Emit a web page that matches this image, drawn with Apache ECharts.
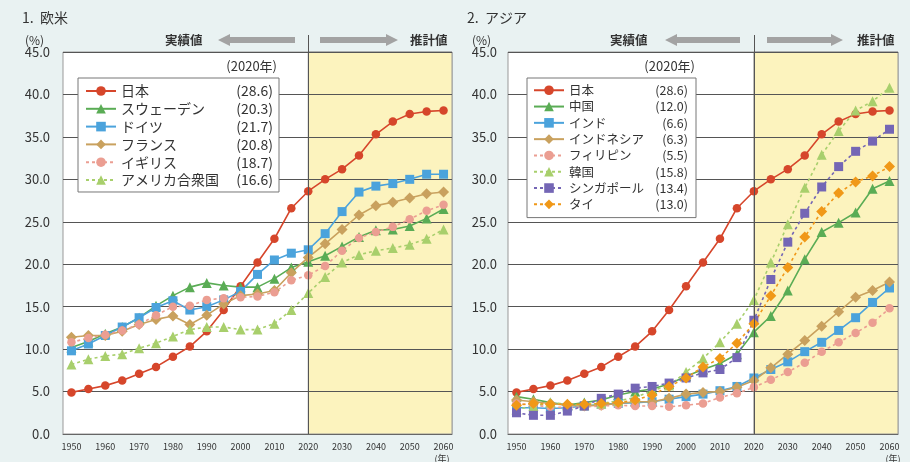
<!DOCTYPE html>
<html><head><meta charset="utf-8">
<script src="https://cdn.jsdelivr.net/npm/echarts@6/dist/echarts.min.js"></script>
<style>html,body{margin:0;padding:0;background:#e9f2f2}#c{width:910px;height:462px}</style>
</head><body><div id="c"></div>
<script>
// ---- data ----
const years = ['1950','1955','1960','1965','1970','1975','1980','1985','1990','1995','2000','2005','2010','2015','2020','2025','2030','2035','2040','2045','2050','2055','2060'];
const yTicks = [0,5,10,15,20,25,30,35,40,45];

// 1. 欧米
const japan   = [4.9,5.3,5.7,6.3,7.1,7.9,9.1,10.3,12.1,14.6,17.4,20.2,23.0,26.6,28.6,30.0,31.2,32.8,35.3,36.8,37.7,38.0,38.1];
const sweden  = [10.2,10.9,11.8,12.6,13.7,15.1,16.3,17.3,17.8,17.5,17.3,17.3,18.3,19.6,20.3,21.0,22.1,23.2,24.0,24.1,24.5,25.4,26.5];
const germany = [9.8,10.6,11.6,12.6,13.7,14.9,15.7,14.6,15.0,15.8,16.8,18.8,20.5,21.3,21.7,23.6,26.2,28.5,29.2,29.5,30.0,30.6,30.6];
const france  = [11.4,11.6,11.6,12.1,12.9,13.5,13.9,12.9,14.0,15.3,16.3,16.5,16.9,19.0,20.8,22.4,24.1,25.8,26.9,27.3,27.8,28.3,28.5];
const uk      = [10.8,11.3,11.7,12.2,12.9,14.0,15.0,15.1,15.8,16.0,16.1,16.2,16.7,18.1,18.7,19.8,21.6,23.1,23.8,24.4,25.3,26.3,27.0];
const usa     = [8.2,8.8,9.2,9.4,10.1,10.7,11.5,12.3,12.6,12.6,12.3,12.3,13.0,14.6,16.6,18.5,20.2,21.1,21.6,21.9,22.3,23.0,24.1];

// 2. アジア
const china       = [4.4,4.1,3.7,3.4,3.7,4.0,4.6,5.0,5.3,5.9,6.8,7.6,8.3,9.4,12.0,13.9,16.9,20.6,23.8,24.9,26.1,28.9,29.8];
const india       = [3.1,3.1,3.0,3.1,3.3,3.5,3.6,3.7,3.8,4.1,4.4,4.7,5.1,5.6,6.6,7.6,8.5,9.7,10.8,12.2,13.7,15.5,17.2];
const indonesia   = [4.0,3.8,3.6,3.4,3.3,3.4,3.6,3.8,3.8,4.2,4.7,4.9,5.0,5.5,6.3,7.8,9.4,11.0,12.7,14.4,16.1,16.9,17.9];
const philippines = [3.6,3.4,3.2,3.1,3.2,3.3,3.4,3.3,3.3,3.2,3.4,3.6,4.3,4.8,5.5,6.4,7.3,8.4,9.7,10.8,11.9,13.1,14.8];
const korea       = [2.9,3.3,3.7,3.5,3.4,3.6,3.9,4.3,5.1,5.7,7.3,8.9,10.8,13.0,15.8,20.2,24.7,29.0,32.9,35.7,38.1,39.2,40.8];
const singapore   = [2.5,2.2,2.2,2.7,3.3,4.2,4.7,5.4,5.6,6.0,6.6,7.2,7.6,9.0,13.4,18.2,22.6,26.0,29.1,31.5,33.3,34.5,35.9];
const thai        = [3.4,3.6,3.5,3.5,3.5,3.6,3.7,4.0,4.6,5.6,6.6,7.9,8.9,10.7,13.0,16.3,19.6,23.2,26.2,28.4,29.7,30.4,31.5];

// legend labels (2020 values)
const namesWest = ['日本','スウェーデン','ドイツ','フランス','イギリス','アメリカ合衆国'];
const valsWest  = ['28.6','20.3','21.7','20.8','18.7','16.6'];
const namesAsia = ['日本','中国','インド','インドネシア','フィリピン','韓国','シンガポール','タイ'];
const valsAsia  = ['28.6','12.0','6.6','6.3','5.5','15.8','13.4','13.0'];

const splitYear = 2020;
const FONT = '"Noto Sans CJK JP","Noto Sans",sans-serif';

// ---- styles ----
const C = {red:'#d6462b', green:'#5aac55', blue:'#4ba3dc', tan:'#c9a15e', pink:'#eb9e92', lgreen:'#a8cf6c', purple:'#7466b5', orange:'#f09818'};
const DASH = [3,3];
function ser(name, data, color, symbol, size, dashed, gi){
  return {type:'line', name, data, xAxisIndex: gi*2, yAxisIndex: gi, color,
    symbol, symbolSize:size, showSymbol:true, z:3,
    lineStyle:{color, width:1.6, type: dashed?DASH:'solid'},
    itemStyle:{color}};
}
const seriesWest = [
  ser('日本', japan, C.red, 'circle', 8.5, false, 0),
  ser('スウェーデン', sweden, C.green, 'triangle', 10, false, 0),
  ser('ドイツ', germany, C.blue, 'rect', 9, false, 0),
  ser('フランス', france, C.tan, 'diamond', 11, false, 0),
  ser('イギリス', uk, C.pink, 'circle', 8.5, true, 0),
  ser('アメリカ合衆国', usa, C.lgreen, 'triangle', 10, true, 0)
];
const seriesAsia = [
  ser('日本', japan, C.red, 'circle', 8.5, false, 1),
  ser('中国', china, C.green, 'triangle', 10, false, 1),
  ser('インド', india, C.blue, 'rect', 9, false, 1),
  ser('インドネシア', indonesia, C.tan, 'diamond', 11, false, 1),
  ser('フィリピン', philippines, C.pink, 'circle', 8.5, true, 1),
  ser('韓国', korea, C.lgreen, 'triangle', 10, true, 1),
  ser('シンガポール', singapore, C.purple, 'rect', 9, true, 1),
  ser('タイ', thai, C.orange, 'diamond', 11, true, 1)
];

function markerSeries(gi){
  return {type:'line', name:'', data:[], xAxisIndex: gi*2+1, yAxisIndex: gi, silent:true,
    markArea:{silent:true, z:1, itemStyle:{color:'#fcf3be', borderColor:'#999', borderWidth:1},
      data:[[{xAxis: splitYear, yAxis: 45},{xAxis: 2062.5, yAxis: 0}]]},
    markLine:{silent:true, symbol:['none','none'], z:4, label:{show:false},
      lineStyle:{color:'#555', width:1, type:'solid'},
      data:[[{xAxis: splitYear, y: 35},{xAxis: splitYear, yAxis: 0}]]}
  };
}

const grids = [
  {left:63, top:52, width:389, height:382},
  {left:508, top:52, width:390, height:382}
];
function xAxes(gi){
  return [
    {type:'category', gridIndex:gi, data:years, boundaryGap:true, z:2,
     axisLine:{lineStyle:{color:'#666'}},
     axisTick:{inside:true, length:4, interval:0, lineStyle:{color:'#555'}},
     axisLabel:{interval:1, fontSize:9, margin:8, color:'#333', fontFamily:FONT}},
    {type:'value', gridIndex:gi, min:1947.5, max:2062.5, show:false}
  ];
}
function yAxis(gi, margin){
  return {type:'value', gridIndex:gi, min:yTicks[0], max:yTicks[yTicks.length-1], interval:5, z:2,
    axisLine:{show:false}, axisTick:{show:false},
    axisLabel:{formatter:v=>v.toFixed(1), fontSize:13, margin, color:'#333', fontFamily:FONT},
    splitLine:{lineStyle:{color:'#555', width:1}}};
}
function legend(names, vals, left, nameW, valW, fs, itemW, pad){
  const m = {}; names.forEach((n,i)=>m[n]=vals[i]);
  return {data:names, left, top:78, orient:'vertical', selectedMode:false,
    backgroundColor:'#fff', borderColor:'#777', borderWidth:1, borderRadius:0,
    padding:pad, itemWidth:itemW, itemHeight:12, itemGap:3.8,
    formatter:n=>`{n|${n}}{v|(${m[n]})}`,
    textStyle:{color:'#333', fontFamily:FONT, fontSize:fs,
      rich:{n:{width:nameW, fontSize:fs, lineHeight:14, fontFamily:FONT, color:'#333'},
            v:{width:valW, align:'right', fontSize:fs, lineHeight:14, fontFamily:FONT, color:'#333'}}}
  };
}
function arrow(xHead, xTail, y){
  const dir = xTail > xHead ? 1 : -1; const hl = 12*dir;
  return {type:'polygon', z:10, silent:true, shape:{points:[[xHead,y],[xHead+hl,y-6],[xHead+hl,y-3],[xTail,y-3],[xTail,y+3],[xHead+hl,y+3],[xHead+hl,y+6]]},
    style:{fill:'#a3a3a3'}};
}
function txt(text, x, y, fs, weight, align){
  return {type:'text', z:10, silent:true, style:{text, x, y, fill:'#333', font:`${weight||'normal'} ${fs}px ${FONT}`, textAlign:align||'left', textVerticalAlign:'middle'}};
}

const chart = echarts.init(document.getElementById('c'), null, {renderer:'canvas'});
chart.setOption({
  animation:false,
  backgroundColor:'#e9f2f2',
  grid: grids.map(g=>Object.assign({show:true, backgroundColor:'#fff', borderColor:'#999', borderWidth:1, z:0}, g)),
  xAxis: [...xAxes(0), ...xAxes(1)],
  yAxis: [yAxis(0,13), yAxis(1,11)],
  legend: [
    legend(namesWest, valsWest, 78, 112, 40, 14, 30, [6,6,5,7]),
    legend(namesAsia, valsAsia, 527, 72, 47, 12.5, 30, [6,8,7,6])
  ],
  series: [markerSeries(0), markerSeries(1), ...seriesWest, ...seriesAsia],
  graphic: [
    txt('1.  欧米', 22, 18, 14, 'normal'),
    txt('2.  アジア', 467, 18, 14, 'normal'),
    txt('(%)', 25, 40, 12, 'normal'),
    txt('(%)', 472, 40, 12, 'normal'),
    txt('実績値', 165, 40, 12.5, 'bold'),
    txt('推計値', 410, 40, 12.5, 'bold'),
    txt('実績値', 610, 40, 12.5, 'bold'),
    txt('推計値', 857, 40, 12.5, 'bold'),
    arrow(218, 295, 40), arrow(398, 320, 40),
    arrow(665, 740, 40), arrow(843, 767, 40),
    txt('(2020年)', 277, 66, 13, 'normal', 'right'),
    txt('(2020年)', 695, 66, 13, 'normal', 'right'),
    txt('(年)', 442, 459, 9, 'normal', 'center'),
    txt('(年)', 893, 459, 9, 'normal', 'center')
  ]
});
</script></body></html>
